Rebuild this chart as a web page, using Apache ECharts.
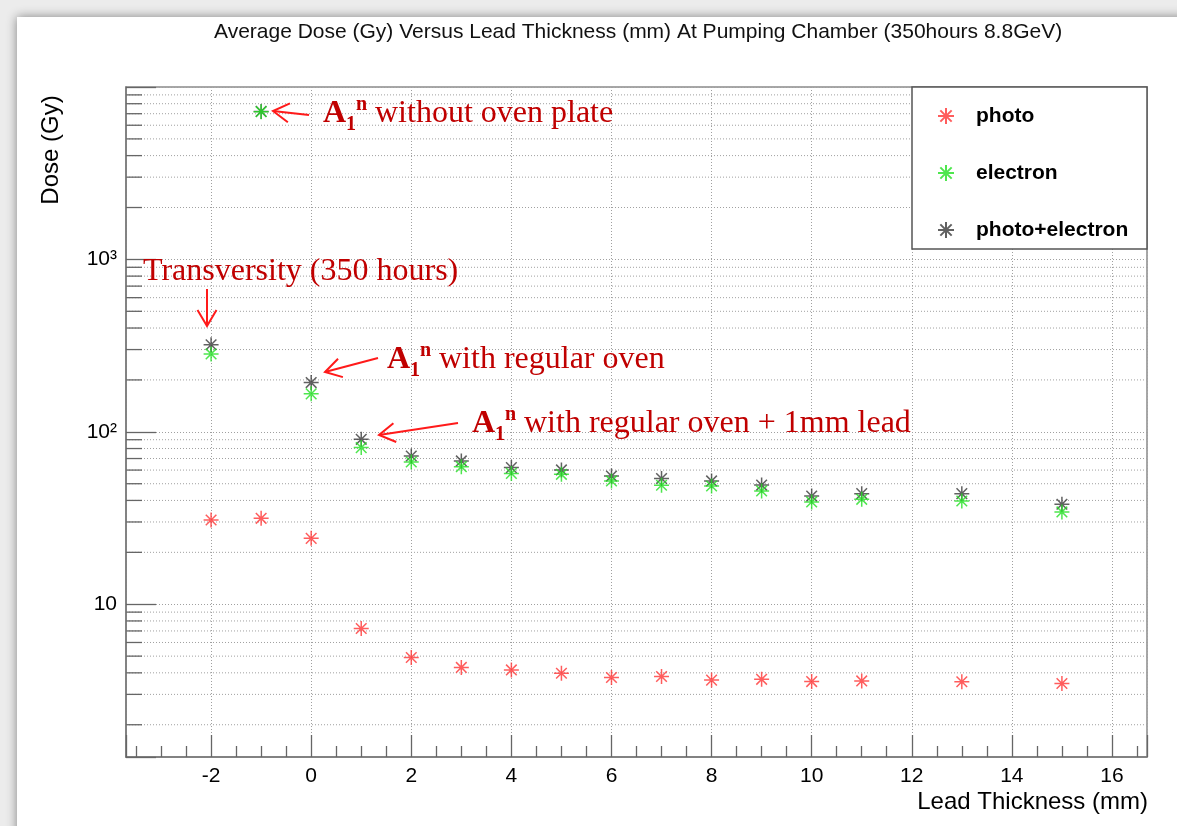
<!DOCTYPE html>
<html><head><meta charset="utf-8">
<script src="https://cdn.jsdelivr.net/npm/echarts@6/dist/echarts.min.js"></script>
<style>html,body{margin:0;padding:0;background:#eee}#c{width:1177px;height:826px}</style>
</head><body><div id="c"></div>
<script>
// ---- data ----
const thickness = [-2, -1, 0, 1, 2, 3, 4, 5, 6, 7, 8, 9, 10, 11, 13, 15];
const photo     = [30.8, 31.5, 24.1, 7.23, 4.91, 4.30, 4.16, 3.98, 3.76, 3.81, 3.63, 3.67, 3.56, 3.59, 3.55, 3.47];
const electron  = [283, 7190, 166, 81.0, 66.8, 62.8, 57.4, 56.7, 51.9, 49.0, 48.5, 45.4, 39.2, 40.6, 39.7, 34.3];
const total     = [320, 7220, 193, 90.5, 72.4, 67.8, 62.0, 60.1, 55.4, 53.6, 51.9, 49.1, 42.4, 43.8, 43.8, 38.0];
const seriesNames = ['photo', 'electron', 'photo+electron'];
const xTickLabels = [-2, 0, 2, 4, 6, 8, 10, 12, 14, 16];
const yTickLabels = {10: '10', 100: '10\u00B2', 1000: '10\u00B3'};
const yMinorTicks = [2,3,4,5,6,7,8,9, 20,30,40,50,60,70,80,90, 200,300,400,500,600,700,800,900, 2000,3000,4000,5000,6000,7000,8000,9000];

const STAR = 'path://M8,0L8,16M0,8L16,8M2.34,2.34L13.66,13.66M2.34,13.66L13.66,2.34';
const SANS = '"Liberation Sans", Arial, Helvetica, sans-serif';
const SERIF = '"Liberation Serif", "Times New Roman", serif';
const ANN = '#c00000';
const ARROW = '#ff1a1a';

function pts(vals) { return thickness.map((x, i) => [x, vals[i]]); }
function starSeries(name, vals, color) {
  return {
    name, type: 'scatter', data: pts(vals), symbol: STAR, symbolSize: 15, symbolKeepAspect: true,
    itemStyle: {color: 'rgba(0,0,0,0)', borderColor: color, borderWidth: 1.5},
    emphasis: {disabled: true}, z: 5
  };
}
function arrow(tip, tail) {
  const dx = tail[0] - tip[0], dy = tail[1] - tip[1];
  const L = Math.hypot(dx, dy), ux = dx / L, uy = dy / L;
  const h = 16, w = 9.5;
  const bx = tip[0] + ux * h, by = tip[1] + uy * h;
  const st = {stroke: ARROW, lineWidth: 2, fill: null};
  return [
    {type: 'line', z: 20, shape: {x1: tip[0], y1: tip[1], x2: tail[0], y2: tail[1]}, style: st},
    {type: 'polyline', z: 20, shape: {points: [[bx - uy * w, by + ux * w], tip, [bx + uy * w, by - ux * w]]}, style: st}
  ];
}
function annText(x, y, text, size, bold) {
  return {type: 'text', z: 20, x, y, style: {text, fill: ANN, font: (bold ? 'bold ' : '') + size + 'px ' + SERIF, textAlign: 'left', textVerticalAlign: 'middle'}};
}
function a1n(x, y, rest) {
  return [
    annText(x, y, 'A', 32, true),
    annText(x + 23, y + 11, '1', 20, true),
    annText(x + 33, y - 9, 'n', 20, true),
    annText(x + 52, y, rest, 32, false)
  ];
}

const chart = echarts.init(document.getElementById('c'), null, {renderer: 'canvas'});
chart.setOption({
  backgroundColor: '#ececec',
  animation: false,
  title: {
    text: 'Average Dose (Gy) Versus Lead Thickness (mm) At Pumping Chamber (350hours 8.8GeV)',
    left: 214, top: 22, padding: 0,
    textStyle: {fontFamily: SANS, fontWeight: 'normal', fontSize: 21, color: '#111'}
  },
  legend: {
    orient: 'vertical', left: 932, top: 100, itemWidth: 16, itemHeight: 16, itemGap: 35,
    data: seriesNames, selectedMode: false, z: 10,
    textStyle: {fontFamily: SANS, fontWeight: 'bold', fontSize: 21, color: '#000', padding: [0, 0, 0, 17], lineHeight: 22}
  },
  grid: {left: 126, right: 30, top: 87, bottom: 69, show: true, borderColor: '#8a8a8a', borderWidth: 1.5, backgroundColor: 'transparent'},
  xAxis: {
    type: 'value', min: -3.7, max: 16.7, minInterval: 2, maxInterval: 2,
    axisLine: {show: true, onZero: false, lineStyle: {color: '#777', width: 1.5}},
    axisTick: {show: true, inside: true, length: 22, lineStyle: {color: '#666', width: 1.3}},
    minorTick: {show: true, splitNumber: 4, length: 11, lineStyle: {color: '#666', width: 1.3}},
    splitLine: {show: true, lineStyle: {color: '#a0a0a0', width: 1, type: [1, 2]}},
    axisLabel: {
      margin: 9, fontFamily: SANS, fontSize: 21, color: '#000',
      formatter: v => xTickLabels.indexOf(Math.round(v * 1000) / 1000) >= 0 ? String(Math.round(v)) : ''
    }
  },
  yAxis: {
    type: 'log', logBase: 10, min: 1.3, max: 10000,
    axisLine: {show: true, onZero: false, lineStyle: {color: '#777', width: 1.5}},
    axisTick: {show: true, inside: true, length: 30, lineStyle: {color: '#666', width: 1.3}},
    splitLine: {show: true, lineStyle: {color: '#a0a0a0', width: 1, type: [1, 2]}},
    axisLabel: {
      margin: 9, fontFamily: SANS, fontSize: 21, color: '#000',
      formatter: v => { for (const k in yTickLabels) { if (Math.abs(v - k) / k < 1e-6) return yTickLabels[k]; } return ''; }
    }
  },
  series: [
    {
      type: 'custom', name: 'minor', silent: true, z: 1,
      data: yMinorTicks.map(v => [0, v]),
      encode: {x: 0, y: 1},
      renderItem: (params, api) => {
        const p = api.coord([0, api.value(1)]);
        const cs = params.coordSys;
        return {type: 'group', children: [
          {type: 'line', shape: {x1: cs.x, y1: p[1], x2: cs.x + cs.width, y2: p[1]}, style: {stroke: '#a0a0a0', lineWidth: 1, lineDash: [1, 2]}},
          {type: 'line', shape: {x1: cs.x, y1: p[1], x2: cs.x + 16, y2: p[1]}, style: {stroke: '#666', lineWidth: 1.3}}
        ]};
      }
    },
    starSeries('photo', photo, '#ff3535'),
    starSeries('photo+electron', total, '#3a3a3a'),
    starSeries('electron', electron, '#22e022')
  ],
  graphic: [
    {type: 'rect', z: -100, shape: {x: 17, y: 17, width: 1200, height: 850}, style: {fill: '#fff', shadowBlur: 10, shadowColor: 'rgba(0,0,0,0.45)'}},
    {type: 'rect', z: 8, shape: {x: 912, y: 87, width: 235, height: 162}, style: {fill: '#fff', stroke: '#555', lineWidth: 1.5}},
    {type: 'text', z: 20, x: 51, y: 150, rotation: Math.PI / 2,
      style: {text: 'Dose (Gy)', fill: '#000', font: '24px ' + SANS, textAlign: 'center', textVerticalAlign: 'middle'}},
    {type: 'text', z: 20, x: 1148, y: 802,
      style: {text: 'Lead Thickness (mm)', fill: '#000', font: '24px ' + SANS, textAlign: 'right', textVerticalAlign: 'middle'}},
    ...a1n(323, 114, 'without oven plate'),
    annText(143, 272, 'Transversity (350 hours)', 32, false),
    ...a1n(387, 360, 'with regular oven'),
    ...a1n(472, 424, 'with regular oven + 1mm lead'),
    ...arrow([273, 111], [309, 115]),
    ...arrow([207, 326], [207, 289]),
    ...arrow([325, 372], [378, 358]),
    ...arrow([379, 435], [458, 423])
  ]
});
</script></body></html>
